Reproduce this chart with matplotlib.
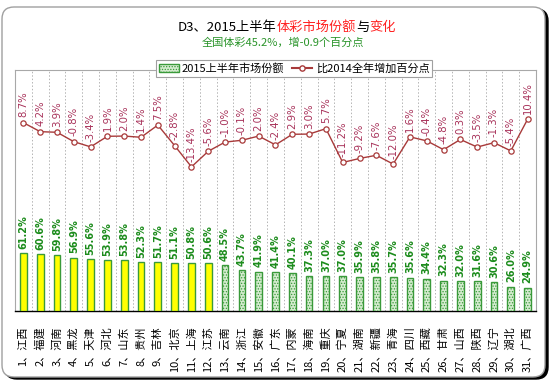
import matplotlib
matplotlib.use('Agg')
import matplotlib.pyplot as plt
from matplotlib.patches import FancyBboxPatch, Patch
from matplotlib.lines import Line2D
from matplotlib.text import Annotation
from matplotlib.transforms import IdentityTransform

plt.rcParams['font.family'] = ['Noto Sans CJK SC', 'DejaVu Sans']
plt.rcParams['hatch.linewidth'] = 0.6

provinces = ['江西', '福建', '河南', '黑龙', '天津', '河北', '山东', '贵州', '吉林', '北京',
             '上海', '江苏', '云南', '浙江', '安徽', '广东', '内蒙', '海南', '重庆', '宁夏',
             '湖南', '新疆', '青海', '四川', '西藏', '甘肃', '山西', '陕西', '辽宁', '湖北', '广西']
share = [61.2, 60.6, 59.8, 56.9, 55.6, 53.9, 53.8, 52.3, 51.7, 51.1, 50.8, 50.6, 48.5, 43.7,
         41.9, 41.4, 40.1, 37.3, 37.0, 37.0, 35.9, 35.8, 35.7, 35.6, 34.4, 32.3, 32.0, 31.6,
         30.6, 26.0, 24.9]
change = [8.7, 4.2, 3.9, -0.8, -3.4, 1.9, 2.0, 1.4, 7.5, -2.8, -13.4, -5.6, -1.0, -0.1, 2.0,
          -2.4, 2.9, 3.0, 5.7, -11.2, -9.2, -7.6, -12.0, 1.6, -0.4, -4.8, 0.3, -3.5, -1.3,
          -5.4, 10.4]
tick_labels = ['%d、%s' % (i + 1, p) for i, p in enumerate(provinces)]

green = '#3a9a3a'
line_red = '#a83a3a'
label_red = '#a8325a'

fig = plt.figure(figsize=(5.5, 3.88), dpi=100)

# outer rounded frame with dark shadow
shadow = FancyBboxPatch((5, 9), 543, 370, boxstyle='round,pad=0,rounding_size=12',
                        transform=IdentityTransform(), facecolor='black', edgecolor='black', zorder=-10)
frame = FancyBboxPatch((2, 11), 543, 370, boxstyle='round,pad=0,rounding_size=12',
                       transform=IdentityTransform(), facecolor='white', edgecolor='#a0a0a0',
                       linewidth=1, zorder=-9)
fig.patches.extend([shadow, frame])

ax = fig.add_axes([15 / 550, 1 - 311 / 388, 521 / 550, 241.5 / 388])
ax.patch.set_alpha(0)
x = list(range(len(provinces)))

for i in x:
    if share[i] >= 50:
        ax.bar(i, share[i], 0.4, color='#ffff00', edgecolor=green, linewidth=1, zorder=3)
    else:
        ax.bar(i, share[i], 0.4, color='#d6ecd0', edgecolor=green, hatch='......',
               linewidth=1, zorder=3)
    ax.text(i, share[i] + 4.5, '%.1f%%' % share[i], rotation=90, ha='center', va='bottom',
            color='#1c8c1c', fontsize=7, fontweight='bold', family='DejaVu Sans', zorder=5)

for b in range(len(provinces) - 1):
    ax.axvline(b + 0.5, color='#b4b4b4', linestyle=(0, (1.5, 2)), linewidth=0.7, zorder=1)

ax.set_xlim(-0.5, len(provinces) - 0.5)
ax.set_ylim(0, 257)
ax.set_yticks([])
ax.set_xticks(x)
ax.set_xticklabels(tick_labels, rotation=90, fontsize=8, va='top', ha='center')
ax.tick_params(axis='x', length=0, pad=11)
for s in ['top', 'left', 'right']:
    ax.spines[s].set_color('#a8a8a8')
ax.spines['bottom'].set_color('black')
ax.spines['bottom'].set_linewidth(1)

ax2 = ax.twinx()
ax2.plot(x, change, color=line_red, linewidth=1, marker='o', markersize=3.8,
         markerfacecolor='white', markeredgecolor=line_red, markeredgewidth=0.9, zorder=4)
for i in x:
    ax2.text(i, change[i] + 2.6, '%.1f%%' % change[i], rotation=90, ha='center', va='bottom',
             color=label_red, fontsize=7.3, family='DejaVu Sans')
ax2.set_ylim(-85.5, 35.3)
ax2.set_yticks([])
for s in ax2.spines.values():
    s.set_visible(False)

# legend
handles = [Patch(facecolor='#d6ecd0', edgecolor=green, hatch='......'),
           Line2D([], [], color=line_red, marker='o', markerfacecolor='white', markersize=3.8)]
leg = fig.legend(handles, ['2015上半年市场份额', '比2014全年增加百分点'], loc='center',
                 bbox_to_anchor=(294 / 550, 1 - 68.5 / 388), ncol=2, fontsize=8,
                 frameon=True, fancybox=False, edgecolor='#a0a0a0', framealpha=1,
                 handlelength=1.8, handletextpad=0.3, columnspacing=0.7,
                 borderpad=0.25)
leg.get_frame().set_linewidth(0.8)

# title in several colours
t = fig.text(178 / 550, 1 - 27 / 388, 'D3、2015上半年', fontsize=9.5, color='black',
             ha='left', va='center')
parts = [('体彩市场份额', '#ff2020'), ('与', 'black'), ('变化', '#ff2020')]
last = t
for s, c in parts:
    last = fig.add_artist(Annotation(s, xy=(1, 0.5), xycoords=last, va='center', ha='left',
                                     fontsize=9.5, color=c))

fig.text(283 / 550, 1 - 43 / 388, '全国体彩45.2%，增-0.9个百分点', fontsize=8, color='#2a942a',
         ha='center', va='center')

fig.savefig('out.png', dpi=100)
